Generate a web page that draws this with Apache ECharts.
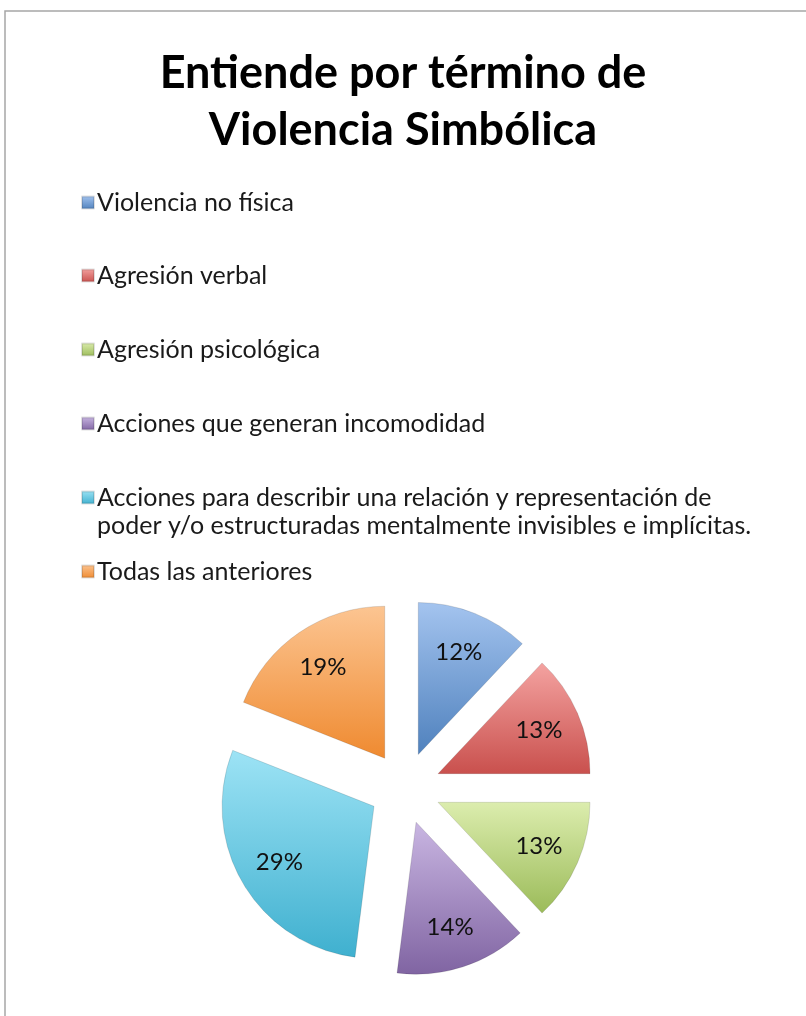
<!DOCTYPE html>
<html>
<head>
<meta charset="utf-8">
<script src="https://cdn.jsdelivr.net/npm/echarts@6/dist/echarts.min.js"></script>
<style>
html,body{margin:0;padding:0;background:#fff;}
#chart{width:806px;height:1016px;}
</style>
</head>
<body>
<div id="chart"></div>
<script>
var categories = [
	"Violencia no física",
	"Agresión verbal",
	"Agresión psicológica",
	"Acciones que generan incomodidad",
	"Acciones para describir una relación y representación de\npoder y/o estructuradas mentalmente invisibles e implícitas.",
	"Todas las anteriores"
];
var values = [12, 13, 13, 14, 29, 19];
//颜色: 浅色 -> 深色
var lightColors = ["#a4c4ef", "#f4a3a1", "#dcedae", "#c9b6e2", "#9de3f5", "#fcc592"];
var darkColors = ["#4f81bd", "#c9504d", "#9bbb59", "#8064a2", "#3fb0cf", "#ef8a30"];
var legendTops = [185, 258, 332, 406, 480, 554];

var FONT = "Lato";

function grad(i){
	return new echarts.graphic.LinearGradient(0, 0, 0, 1, [
		{offset: 0, color: lightColors[i]},
		{offset: 1, color: darkColors[i]}
	]);
}

var chart = echarts.init(document.getElementById("chart"));

var pieData = [];
var labelData = [];
for(var i=0;i<categories.length;i++){
	pieData.push({
		name: categories[i],
		value: values[i],
		selected: true,
		itemStyle: {color: grad(i)}
	});
	labelData.push({
		name: categories[i],
		value: values[i],
		selected: true
	});
}

var legends = [];
for(var i=0;i<categories.length;i++){
	legends.push({
		data: [categories[i]],
		left: 76,
		top: legendTops[i],
		icon: 'rect',
		itemWidth: 12,
		itemHeight: 12,
		itemGap: 0,
		selectedMode: false,
		textStyle: {fontFamily: FONT, fontSize: 25, color: "#1a1a1a", padding: [0,0,0,-2]},
		formatter: function(name){
			return name.split("\n")[0];
		}
	});
}

var pieCommon = {
	type: 'pie',
	center: [405, 788],
	startAngle: 90,
	clockwise: true,
	selectedMode: 'multiple',
	selectedOffset: 36,
	emphasis: {disabled: true},
	labelLine: {show: false}
};

var option = {
	animation: false,
	title: {
		text: "Entiende por término de\nViolencia Simbólica",
		left: 'center',
		top: 40,
		textStyle: {
			fontFamily: FONT,
			fontWeight: 'bold',
			fontSize: 45,
			lineHeight: 57,
			color: "#000"
		}
	},
	legend: legends,
	graphic: [
		{
			type: 'rect',
			shape: {x: 5, y: 11, width: 820, height: 1030},
			style: {fill: 'none', stroke: '#a6a6a6', lineWidth: 1.5},
			silent: true
		},
		{
			type: 'text',
			left: 97,
			top: 513,
			style: {
				text: categories[4].split("\n")[1],
				font: "25px " + FONT,
				fill: "#1a1a1a"
			}
		}
	],
	series: [
		echarts.util.merge({
			radius: [0, 152],
			label: {show: false},
			itemStyle: {
				borderColor: 'rgba(0,0,0,0.12)',
				borderWidth: 1
			},
			data: pieData
		}, pieCommon),
		//只用来放标签(环形中点更靠外)
		echarts.util.merge({
			radius: [62, 152],
			silent: true,
			legendHoverLink: false,
			itemStyle: {color: 'rgba(0,0,0,0)'},
			label: {
				show: true,
				position: 'inside',
				formatter: '{d}%',
				fontFamily: FONT,
				fontSize: 24,
				color: "#111"
			},
			data: labelData
		}, pieCommon)
	]
};
chart.setOption(option);
</script>
</body>
</html>
